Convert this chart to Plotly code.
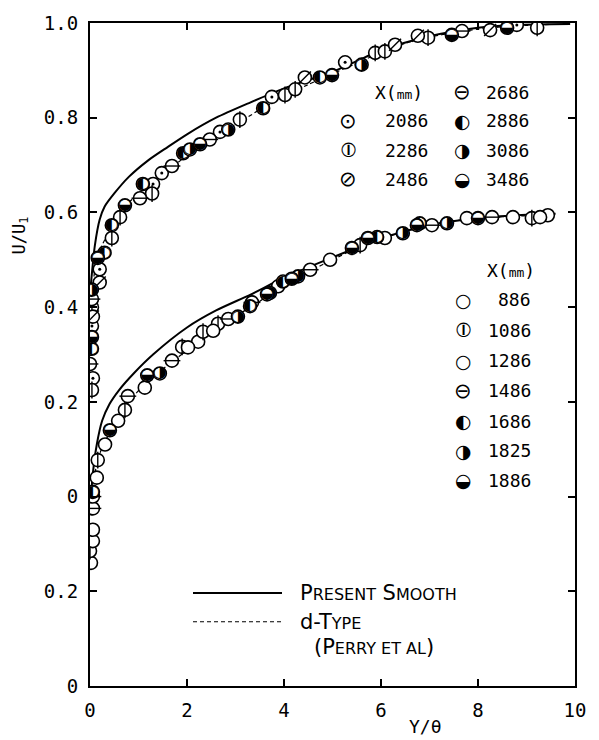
import plotly.graph_objects as go

# ---------------- data ----------------
OFFSET = 0.4  # upper group (X = 2086..3486 mm) is shifted up by 0.4 on the plot

# Upper group (measured values U/U1 vs Y/theta)
x2086 = [0.06, 0.04, 0.2, 1.3, 1.48, 2.68, 3.75, 5.26, 8.8]
u2086 = [0.25, 0.36, 0.48, 0.66, 0.683, 0.77, 0.844, 0.917, 0.996]
x2286 = [0.04, 0.04, 0.45, 0.62, 1.28, 3.09, 4.02, 4.23, 5.88, 6.08, 6.97, 9.22]
u2286 = [0.225, 0.40, 0.546, 0.59, 0.64, 0.796, 0.848, 0.86, 0.937, 0.94, 0.969, 0.99]
x2486 = [0.06, 0.2, 4.43, 6.29, 6.76, 8.25]
u2486 = [0.38, 0.452, 0.885, 0.954, 0.973, 0.985]
x2686 = [0.0, 0.04, 1.03, 1.69, 2.47, 7.67]
u2686 = [0.28, 0.417, 0.63, 0.698, 0.754, 0.983]
x2886 = [0.04, 0.3, 0.45, 1.09, 1.92, 3.57, 4.74]
u2886 = [0.312, 0.515, 0.573, 0.66, 0.725, 0.82, 0.885]
x3086 = [0.04, 2.06, 2.85, 5.6]
u3086 = [0.437, 0.733, 0.775, 0.912]
x3486 = [0.04, 0.16, 0.72, 2.27, 4.99, 7.46, 8.6]
u3486 = [0.337, 0.504, 0.615, 0.744, 0.89, 0.975, 0.99]

# Lower group
x886 = [0.02, 0.31, 1.13, 2.23, 4.95, 7.77, 9.44]
u886 = [0.26, 0.51, 0.63, 0.727, 0.9, 0.988, 0.994]
x1086 = [0.0, 0.16, 0.72, 1.9, 2.33, 2.64, 5.57, 9.11]
u1086 = [0.285, 0.477, 0.583, 0.716, 0.748, 0.765, 0.931, 0.988]
x1286 = [0.06, 0.06, 0.14, 0.58, 2.02, 2.54, 3.88, 6.08, 8.72, 9.28]
u1286 = [0.306, 0.33, 0.44, 0.56, 0.715, 0.75, 0.844, 0.946, 0.99, 0.99]
x1486 = [0.06, 0.06, 0.78, 1.69, 2.85, 3.34, 4.54, 7.05, 8.29]
u1486 = [0.375, 0.40, 0.612, 0.687, 0.775, 0.81, 0.879, 0.973, 0.99]
x1686 = [0.06, 3.3, 3.98, 5.92, 6.8]
u1686 = [0.41, 0.802, 0.854, 0.948, 0.977]
x1825 = [1.44, 3.05, 3.71, 4.29, 6.45, 7.36]
u1825 = [0.66, 0.78, 0.83, 0.865, 0.956, 0.977]
x1886 = [0.41, 1.18, 3.65, 4.16, 5.4, 5.73, 6.74, 8.0]
u1886 = [0.54, 0.656, 0.827, 0.86, 0.925, 0.946, 0.973, 0.988]

# Present smooth-wall curves
xs_up = [0.02, 0.1, 0.2, 0.3, 0.5, 0.8, 1.2, 1.6, 2.0, 2.6, 3.3, 4.0, 5.0, 6.0, 7.0, 8.0, 8.8, 9.9]
us_up = [0.45, 0.53, 0.585, 0.612, 0.64, 0.675, 0.71, 0.738, 0.765, 0.80, 0.832, 0.862, 0.897, 0.942, 0.972, 0.99, 0.996, 0.998]
xs_lo = [0.02, 0.06, 0.14, 0.25, 0.4, 0.6, 0.9, 1.3, 2.0, 2.6, 3.3, 4.0, 5.0, 6.0, 7.0, 8.0, 9.0, 9.6]
us_lo = [0.40, 0.45, 0.51, 0.56, 0.595, 0.625, 0.66, 0.70, 0.757, 0.793, 0.826, 0.862, 0.905, 0.945, 0.973, 0.988, 0.995, 0.997]

# d-type (Perry et al) curves
xd_up = [0.05, 0.1, 0.2, 0.4, 0.7, 1.0, 1.5, 2.0, 2.5, 3.0, 3.5, 4.0, 4.5, 5.0, 5.5, 6.0, 6.5, 7.0, 7.5, 8.0, 8.5, 9.0, 9.5]
ud_up = [0.42, 0.48, 0.52, 0.56, 0.61, 0.64, 0.68, 0.72, 0.755, 0.785, 0.817, 0.845, 0.87, 0.893, 0.915, 0.938, 0.957, 0.97, 0.98, 0.987, 0.992, 0.995, 0.997]
xd_lo = [0.1, 0.2, 0.3, 0.5, 0.8, 1.2, 1.7, 2.2, 2.8, 3.4, 4.0, 4.5, 5.0, 5.5, 6.0, 6.5, 7.0, 7.5, 8.0, 8.5, 9.0, 9.5]
ud_lo = [0.45, 0.49, 0.515, 0.55, 0.6, 0.645, 0.685, 0.725, 0.77, 0.805, 0.85, 0.875, 0.9, 0.925, 0.945, 0.96, 0.973, 0.982, 0.988, 0.991, 0.993, 0.995]

ytick_vals = [0, 0.2, 0.4, 0.6, 0.8, 1.0, 1.2, 1.4]
ytick_text = ["0", "0.2", "0", "0.2", "0.4", "0.6", "0.8", "1.0"]
xtick_vals = [0, 2, 4, 6, 8, 10]

upper_series = [("2086", x2086, u2086, "dot"), ("2286", x2286, u2286, "vbar"),
                ("2486", x2486, u2486, "slash"), ("2686", x2686, u2686, "hbar"),
                ("2886", x2886, u2886, "left"), ("3086", x3086, u3086, "right"),
                ("3486", x3486, u3486, "top")]
lower_series = [("886", x886, u886, "open"), ("1086", x1086, u1086, "vbar"),
                ("1286", x1286, u1286, "open"), ("1486", x1486, u1486, "hbar"),
                ("1686", x1686, u1686, "left"), ("1825", x1825, u1825, "right"),
                ("1886", x1886, u1886, "top")]

# ---------------- figure ----------------
W, H = 599, 740
ML, MR, MT, MB = 90, 24, 15, 54
MS = 13
fig = go.Figure()

def add_curve(xv, uv, off, dash, width):
    fig.add_trace(go.Scatter(x=xv, y=[u + off for u in uv], mode="lines",
                             line=dict(color="black", width=width, dash=dash,
                                       shape="spline", smoothing=0.7),
                             hoverinfo="skip", showlegend=False))

add_curve(xs_up, us_up, OFFSET, "solid", 2)
add_curve(xs_lo, us_lo, 0, "solid", 2)
add_curve(xd_up, ud_up, OFFSET, "4px,3px", 1.2)
add_curve(xd_lo, ud_lo, 0, "4px,3px", 1.2)

GLYPH = {"left": "\u25D0", "right": "\u25D1", "top": "\u25D2"}
OVER = {"vbar": "line-ns", "hbar": "line-ew", "slash": "line-ne"}

def add_points(xv, uv, off, kind):
    yv = [u + off for u in uv]
    fig.add_trace(go.Scatter(x=xv, y=yv, mode="markers",
                             marker=dict(symbol="circle", size=MS, color="white",
                                         line=dict(color="black", width=1.6)),
                             showlegend=False))
    if kind in OVER:
        fig.add_trace(go.Scatter(x=xv, y=yv, mode="markers",
                                 marker=dict(symbol=OVER[kind], size=MS - 1, color="black",
                                             line=dict(color="black", width=1.4)),
                                 showlegend=False))
    elif kind == "dot":
        fig.add_trace(go.Scatter(x=xv, y=yv, mode="markers",
                                 marker=dict(symbol="circle", size=3, color="black"),
                                 showlegend=False))
    elif kind in GLYPH:
        fig.add_trace(go.Scatter(x=xv, y=yv, mode="text", text=[GLYPH[kind]] * len(xv),
                                 textposition="middle center",
                                 textfont=dict(family="DejaVu Sans", size=16, color="black"),
                                 showlegend=False))

for name, xv, uv, kind in upper_series:
    add_points(xv, uv, OFFSET, kind)
for name, xv, uv, kind in lower_series:
    add_points(xv, uv, 0, kind)

TICKFONT = dict(family="DejaVu Sans Mono", size=19, color="black")
fig.update_xaxes(range=[0, 10], tickvals=xtick_vals, ticks="inside", ticklen=7, tickwidth=1.5,
                 tickcolor="black", showline=True, linecolor="black", linewidth=2,
                 mirror="ticks", showgrid=False, zeroline=False, tickfont=TICKFONT,
                 ticklabelstandoff=6)
fig.update_yaxes(range=[0, 1.4], tickvals=ytick_vals, ticktext=ytick_text, ticks="inside",
                 ticklen=7, tickwidth=1.5, tickcolor="black", showline=True, linecolor="black",
                 linewidth=2, mirror="ticks", showgrid=False, zeroline=False, tickfont=TICKFONT,
                 ticklabelstandoff=6)

PW, PH = W - ML - MR, H - MT - MB
def px(x):
    return (x - ML) / PW
def py(y):
    return (H - MB - y) / PH

ann = []
def text(xp, yp, s, size=18, xanchor="left", family="DejaVu Sans Mono", angle=0):
    ann.append(dict(x=px(xp), y=py(yp), xref="paper", yref="paper", text=s, showarrow=False,
                    xanchor=xanchor, yanchor="middle", textangle=angle,
                    font=dict(family=family, size=size, color="black")))

LEG_GLYPH = {"open": "\u25CB", "dot": "\u2299", "vbar": "\u29B6", "hbar": "\u2296",
             "slash": "\u2298", "left": "\u25D0", "right": "\u25D1", "top": "\u25D2"}
LEG_SIZE = {"open": 19, "dot": 21, "vbar": 21, "hbar": 21, "slash": 21,
            "left": 19, "right": 19, "top": 19}

# axis titles
text(20, 230, "U/U<sub>1</sub>", size=17, xanchor="center", angle=-90)
text(425, 727, "Y/\u03b8", size=18, xanchor="center")

# upper legend
MM = "X(<span style='font-size:13px'>mm</span>)"
text(373, 85, MM, size=18)
col1 = [("2086", "dot", 114), ("2286", "vbar", 144), ("2486", "slash", 173)]
col2 = [("2686", "hbar", 85), ("2886", "left", 114), ("3086", "right", 144), ("3486", "top", 173)]
for lab, kind, yy in col1:
    text(348, yy, LEG_GLYPH[kind], size=LEG_SIZE[kind], xanchor="center", family="DejaVu Sans")
    text(383, yy, lab)
for lab, kind, yy in col2:
    text(462, yy, LEG_GLYPH[kind], size=LEG_SIZE[kind], xanchor="center", family="DejaVu Sans")
    text(484, yy, lab)

# lower legend
text(485, 265, MM, size=18)
rows = [295, 326, 357, 387, 418, 448, 478]
for (lab, xv, uv, kind), yy in zip(lower_series, rows):
    text(463, yy, LEG_GLYPH[kind], size=LEG_SIZE[kind], xanchor="center", family="DejaVu Sans")
    text(533, yy, lab, xanchor="right")

# line legend
SC = "<span style='font-size:16px'>%s</span>"
text(298, 592, "P" + SC % "RESENT" + " S" + SC % "MOOTH", size=21, family="DejaVu Sans")
text(298, 621, "d-T" + SC % "YPE", size=21, family="DejaVu Sans")
text(312, 647, "(P" + SC % "ERRY ET AL" + ")", size=21, family="DejaVu Sans")

shapes = [
    dict(type="line", xref="paper", yref="paper", x0=px(193), x1=px(282), y0=py(592), y1=py(592),
         line=dict(color="black", width=2)),
    dict(type="line", xref="paper", yref="paper", x0=px(193), x1=px(282), y0=py(621), y1=py(621),
         line=dict(color="black", width=1.2, dash="4px,3px")),
]

fig.update_layout(width=W, height=H, margin=dict(l=ML, r=MR, t=MT, b=MB),
                  plot_bgcolor="white", paper_bgcolor="white", showlegend=False,
                  annotations=ann, shapes=shapes)

fig.write_html("out.html")
